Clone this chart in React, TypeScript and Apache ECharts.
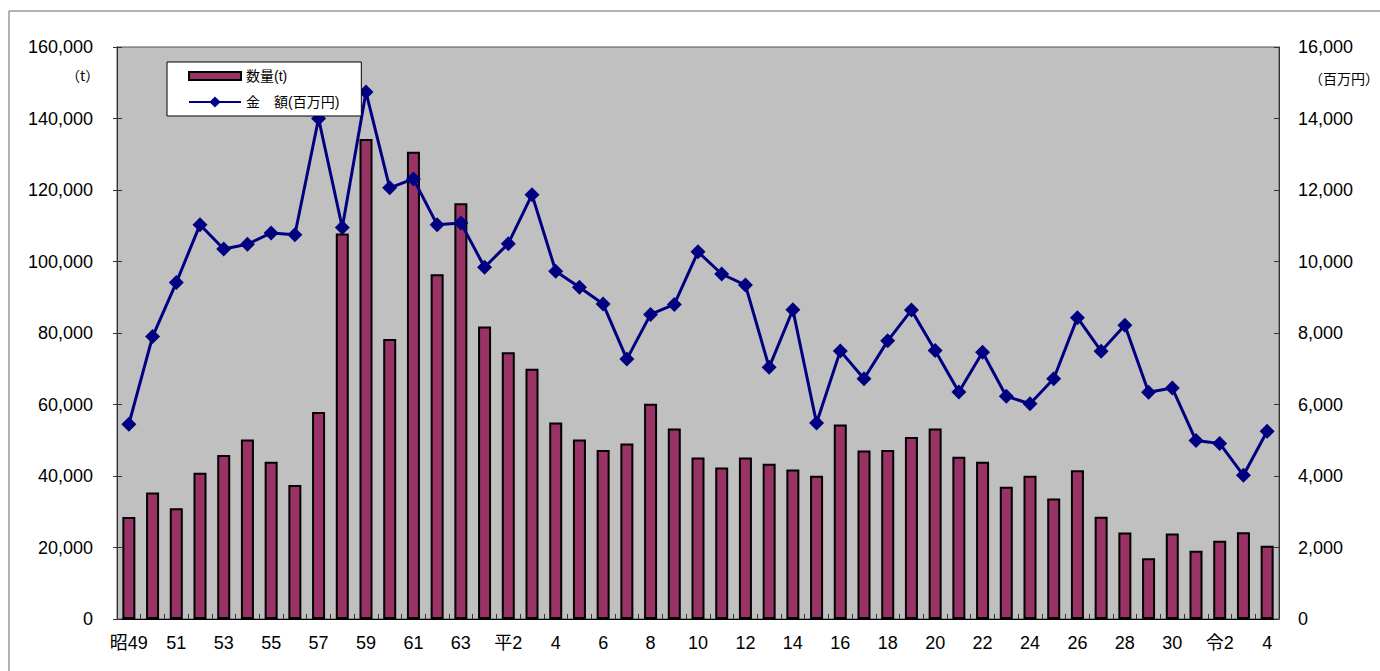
import React, { useEffect, useRef } from "react";
import * as echarts from "echarts";

const years = [
  "昭49", "50", "51", "52", "53", "54", "55", "56", "57", "58", "59", "60", "61", "62", "63",
  "平元", "平2", "3", "4", "5", "6", "7", "8", "9", "10", "11", "12", "13", "14", "15",
  "16", "17", "18", "19", "20", "21", "22", "23", "24", "25", "26", "27", "28", "29", "30",
  "令元", "令2", "3", "4",
];

const quantity = [
  28500, 35400, 31000, 40900, 45900, 50200, 44000, 37500, 57900, 107800, 134300, 78300, 130700, 96400, 116300,
  81800, 74600, 70000, 55000, 50200, 47300, 49100, 60200, 53300, 45200, 42400, 45200, 43400, 41800, 40100,
  54400, 47100, 47300, 50900, 53300, 45400, 44000, 37000, 40100, 33700, 41600, 28600, 24200, 17000, 23900,
  19100, 21900, 24300, 20500,
];

const amount = [
  5450, 7900, 9410, 11030, 10350, 10480, 10800, 10750, 14000, 10950, 14740, 12060, 12310, 11030, 11080,
  9840, 10500, 11870, 9730, 9280, 8810, 7270, 8520, 8800, 10270, 9650, 9340, 7040, 8650, 5480,
  7500, 6720, 7780, 8640, 7510, 6350, 7460, 6230, 6020, 6720, 8430, 7490, 8220, 6340, 6460,
  4990, 4910, 4020, 5250,
];

const leftTicks = { min: 0, max: 160000, interval: 20000 };
const rightTicks = { min: 0, max: 16000, interval: 2000 };

const FONT = "'Liberation Sans', 'Noto Sans CJK JP', sans-serif";

export default function App() {
  const ref = useRef<HTMLDivElement>(null);
  useEffect(() => {
    if (!ref.current) return;
    const chart = echarts.init(ref.current, null, { renderer: "svg" });
    const fmt = (v: number) => v.toLocaleString("en-US");
    chart.setOption({
      animation: false,
      backgroundColor: "#ffffff",
      textStyle: { fontFamily: FONT },
      grid: {
        left: 117,
        right: 101,
        top: 47,
        bottom: 52,
        show: true,
        backgroundColor: "#C0C0C0",
        borderColor: "#555555",
        borderWidth: 1,
      },
      legend: {
        orient: "vertical",
        left: 167,
        top: 62,
        backgroundColor: "#ffffff",
        borderColor: "#000000",
        borderWidth: 1,
        borderRadius: 0,
        padding: [7, 22, 7, 21],
        itemGap: 12,
        itemWidth: 52,
        itemHeight: 14,
        textStyle: { fontSize: 14, color: "#000", fontFamily: FONT },
        data: [
          { name: "数量(t)", icon: "path://M0,0H52V8H0Z" },
          { name: "金　額(百万円)" },
        ],
      },
      graphic: [
        {
          type: "rect",
          shape: { x: 9, y: 11, width: 1400, height: 700 },
          style: { fill: "none", stroke: "#666666", lineWidth: 1 },
          silent: true,
        },
        {
          type: "text",
          x: 66,
          y: 68,
          style: {
            text: "（t）",
            fontSize: 14,
            fontFamily: "'Noto Sans CJK JP'",
            font: "14px 'Noto Sans CJK JP'",
            fill: "#000",
          },
        },
        {
          type: "text",
          x: 1309,
          y: 71,
          style: {
            text: "（百万円）",
            fontSize: 14,
            fontFamily: "'Noto Sans CJK JP'",
            font: "14px 'Noto Sans CJK JP'",
            fill: "#000",
          },
        },
      ],
      xAxis: {
        type: "category",
        data: years,
        boundaryGap: true,
        axisLine: { show: true, lineStyle: { color: "#000", width: 1 } },
        axisTick: { show: true, inside: true, length: 5, interval: 0, lineStyle: { color: "#333" } },
        axisLabel: { interval: 1, fontSize: 18, color: "#000", margin: 15, fontFamily: FONT },
        splitLine: { show: false },
      },
      yAxis: [
        {
          type: "value",
          ...leftTicks,
          axisLine: { show: true, lineStyle: { color: "#333", width: 1 } },
          axisTick: { show: true, inside: true, length: 5, lineStyle: { color: "#333" } },
          axisLabel: { fontSize: 18, color: "#000", margin: 24, formatter: fmt, fontFamily: FONT },
          splitLine: { show: false },
        },
        {
          type: "value",
          ...rightTicks,
          position: "right",
          axisLine: { show: true, lineStyle: { color: "#333", width: 1 } },
          axisTick: { show: true, inside: true, length: 5, lineStyle: { color: "#333" } },
          axisLabel: { fontSize: 18, color: "#000", margin: 19, formatter: fmt, fontFamily: FONT },
          splitLine: { show: false },
        },
        {
          type: "value",
          ...leftTicks,
          position: "left",
          axisLine: { show: true, lineStyle: { color: "#333", width: 1 } },
          axisTick: { show: true, inside: false, length: 4, lineStyle: { color: "#333" } },
          axisLabel: { show: false },
          splitLine: { show: false },
        },
      ],
      series: [
        {
          name: "数量(t)",
          type: "bar",
          yAxisIndex: 0,
          data: quantity,
          barWidth: 13,
          itemStyle: { color: "#993366", borderColor: "#000000", borderWidth: 2 },
        },
        {
          name: "金　額(百万円)",
          type: "line",
          yAxisIndex: 1,
          data: amount,
          symbol: "diamond",
          symbolSize: 15,
          lineStyle: { color: "#000080", width: 3 },
          itemStyle: { color: "#000080" },
        },
      ],
    });
    return () => chart.dispose();
  }, []);
  return (
    <div
      ref={ref}
      style={{ position: "absolute", left: 0, top: 0, width: 1380, height: 671 }}
    />
  );
}
